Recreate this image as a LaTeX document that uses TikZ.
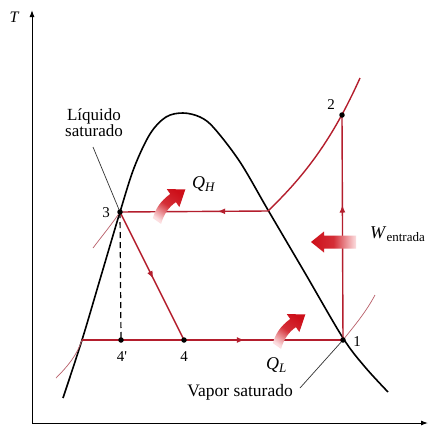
\documentclass[tikz,border=0pt]{standalone}
\usepackage{fontspec}
\setmainfont{Liberation Serif}
\usetikzlibrary{arrows.meta,decorations.markings}
\definecolor{cyc}{RGB}{180,30,45}
\definecolor{thinred}{RGB}{185,95,105}
\definecolor{arrred}{RGB}{205,15,25}
\definecolor{arrlight}{RGB}{252,222,224}
\newcommand{\fatarr}[8]{%
\begin{scope}[shift={#1},rotate=#2]
\shade[top color=arrred, bottom color=arrlight, middle color=arrred!85!arrlight, shading angle=#8]
 ({0pt},{#4*1pt}) .. controls ({#3/3*1pt},{(#3/3*tan(#7)+#4)*1pt}) and ({2*#3/3*1pt},{(#3/3*tan(#7)+#4)*1pt}) .. ({(#3+#4*sin(#7))*1pt},{#4*cos(#7)*1pt})
 -- ({(#3+#5*sin(#7))*1pt},{#5*cos(#7)*1pt})
 -- ({(#3+#6*cos(#7))*1pt},{-#6*sin(#7)*1pt})
 -- ({(#3-#5*sin(#7))*1pt},{-#5*cos(#7)*1pt})
 -- ({(#3-#4*sin(#7))*1pt},{-#4*cos(#7)*1pt})
 .. controls ({2*#3/3*1pt},{(#3/3*tan(#7)-#4)*1pt}) and ({#3/3*1pt},{(#3/3*tan(#7)-#4)*1pt}) .. ({0pt},{-#4*1pt}) -- cycle;
\end{scope}}
\begin{document}
\begin{tikzpicture}[x=1pt,y=-1pt,
 cyclestyle/.style={cyc, line width=1.4pt},
 thincurve/.style={thinred, line width=0.7pt},
 domestyle/.style={black, line width=1.6pt},
 dot/.style={circle, fill=black, inner sep=0pt, minimum size=5.5pt},
 num/.style={font=\fontsize{15}{16}\selectfont, inner sep=1pt},
 txt/.style={font=\fontsize{17}{16}\selectfont, inner sep=1pt},
 midarrow/.style={postaction={decorate}, decoration={markings, mark=at position #1 with {\arrow{Latex[length=7.5pt,width=6pt]}}}}]
\useasboundingbox (0,0) rectangle (428,440);
\fill[white] (0,0) rectangle (428,440);
% axes
\coordinate (O) at (32,423);
\coordinate (yend) at (32,10);
\coordinate (xend) at (428,423);
\draw[line width=1pt, -{Latex[length=7pt,width=5pt]}] (O) -- (yend);
\draw[line width=1pt, -{Latex[length=7pt,width=5pt]}] (O) -- (xend);
\node[txt, font=\fontsize{16}{16}\selectfont\itshape] (T) at (14,17) {T};
% points
\coordinate (p1) at (343,340);
\coordinate (p2) at (342,115);
\coordinate (p3) at (120,212);
\coordinate (p4) at (184,340);
\coordinate (p4p) at (121,340);
\coordinate (sv) at (268,211);
\coordinate (sl) at (82,340);
\coordinate (top) at (360,78);
% dome
\draw[domestyle] plot[smooth, tension=0.55] coordinates {(63,398) (82,340) (101,276) (120,212) (134,168) (150,134) (166,117) (183,113) (200,117) (214,128) (240,162) (268,210) (305,273) (343,338) (365,367) (388,392)};
% thin isobar pieces
\draw[thincurve] (56,378) .. controls (68,366) and (77,355) .. (sl);
\draw[thincurve] (93,248) .. controls (102,236) and (112,224) .. (p3);
\draw[thincurve] (p1) .. controls (355,325) and (366,312) .. (375,295);
% leaders
\draw[black!80, line width=0.7pt] (300,388) -- (p1);
\draw[black!80, line width=0.7pt] (93,147) -- (p3);
% dashed
\draw[black, line width=1.2pt, dash pattern=on 6pt off 4pt] (p3) -- (p4p);
% cycle
\draw[cyclestyle] (sl) -- (p4);
\draw[cyclestyle, midarrow=0.38] (p4) -- (p1);
\draw[cyclestyle, midarrow=0.6] (p1) -- (p2);
\draw[cyclestyle] (sv) .. controls (300,180) and (330,145) .. (top);
\draw[cyclestyle, midarrow=0.34] (sv) -- (p3);
\draw[cyclestyle, midarrow=0.52] (p3) -- (p4);
% dots
\node[dot] (d1) at (p1) {};
\node[dot] (d2) at (p2) {};
\node[dot] (d3) at (p3) {};
\node[dot] (d4) at (p4) {};
\node[dot] (d4p) at (p4p) {};
% fat arrows
\fatarr{(157,221)}{55}{28}{5}{11}{15}{20}{-35}
\fatarr{(277,346)}{55}{28}{5}{11}{15}{20}{-35}
\fatarr{(356,242)}{180}{32}{6.5}{10.5}{13}{0}{90}
% labels
\node[num] (l1) at (357,342) {1};
\node[num] (l2) at (331,105) {2};
\node[num] (l3) at (106,213) {3};
\node[num] (l4) at (184,357) {4};
\node[num] (l4p) at (122,357) {4\textquotesingle};
\node[txt, align=center] (ls) at (94,123) {Líquido\\saturado};
\node[txt, anchor=east, font=\fontsize{17.5}{16}\selectfont] (vs) at (294,392) {Vapor saturado};
\node[txt, anchor=west, font=\fontsize{18}{16}\selectfont] (qh) at (191,184) {\textit{Q}\raisebox{-0.35ex}{\fontsize{13}{13}\selectfont\textit{H}}};
\node[txt, anchor=west, font=\fontsize{18}{16}\selectfont] (ql) at (265,365) {\textit{Q}\raisebox{-0.35ex}{\fontsize{13}{13}\selectfont\textit{L}}};
\node[txt, anchor=west, font=\fontsize{18}{16}\selectfont] (w) at (369,234) {\textit{W}\raisebox{-0.35ex}{\fontsize{13}{13}\selectfont entrada}};
\end{tikzpicture}
\end{document}
